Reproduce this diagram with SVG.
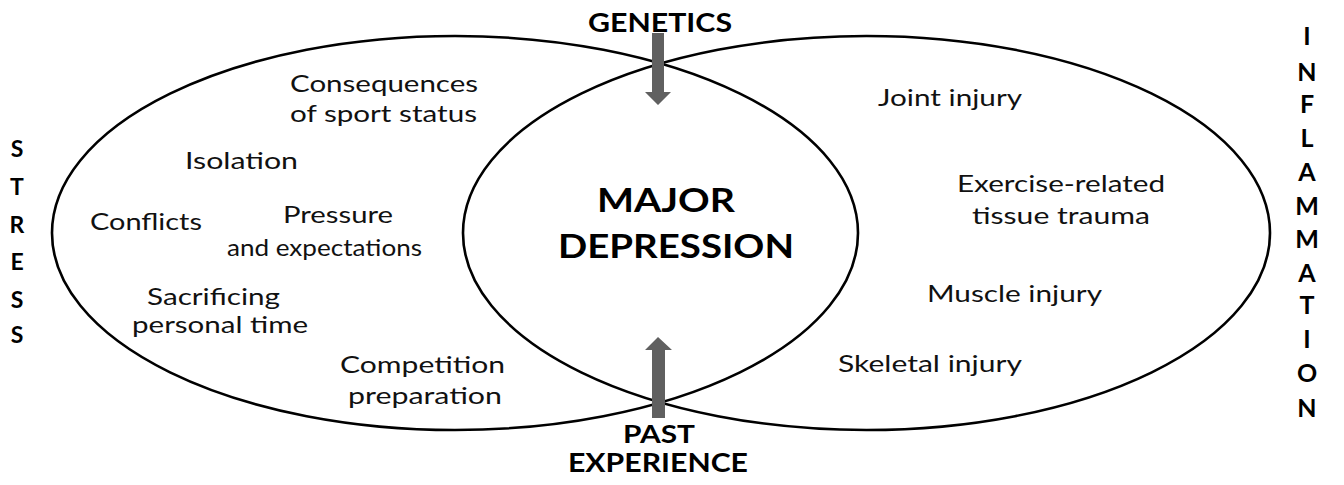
<svg xmlns="http://www.w3.org/2000/svg" width="1344" height="485" viewBox="0 0 1344 485">
  <style>
    .ring { fill: none; stroke: #000; stroke-width: 2.6; }
    .t { font-family: Lato, "Open Sans", "Liberation Sans", sans-serif; font-size: 23px; fill: #111; }
    .b { font-family: Lato, "Open Sans", "Liberation Sans", sans-serif; font-weight: 700; fill: #000; }
    .arrow { fill: #606060; }
  </style>
  <rect width="1344" height="485" fill="#fff"/>

  <g id="stress-circle">
    <ellipse class="ring" cx="455" cy="233" rx="403" ry="197"/>
    <text class="t" x="290" y="92" textLength="188" lengthAdjust="spacingAndGlyphs">Consequences</text>
    <text class="t" x="290" y="122" textLength="187" lengthAdjust="spacingAndGlyphs">of sport status</text>
    <text class="t" x="185" y="169" textLength="113" lengthAdjust="spacingAndGlyphs">Isolation</text>
    <text class="t" x="90" y="230" textLength="112" lengthAdjust="spacingAndGlyphs">Conflicts</text>
    <text class="t" x="283" y="223" textLength="110" lengthAdjust="spacingAndGlyphs">Pressure</text>
    <text class="t" x="227" y="256" textLength="195" lengthAdjust="spacingAndGlyphs">and expectations</text>
    <text class="t" x="147" y="305" textLength="133" lengthAdjust="spacingAndGlyphs">Sacrificing</text>
    <text class="t" x="132" y="333" textLength="176" lengthAdjust="spacingAndGlyphs">personal time</text>
    <text class="t" x="340" y="373" textLength="165" lengthAdjust="spacingAndGlyphs">Competition</text>
    <text class="t" x="348" y="404" textLength="154" lengthAdjust="spacingAndGlyphs">preparation</text>
  </g>

  <g id="inflammation-circle">
    <ellipse class="ring" cx="866.5" cy="233" rx="403.5" ry="197"/>
    <text class="t" x="878" y="106" textLength="144" lengthAdjust="spacingAndGlyphs">Joint injury</text>
    <text class="t" x="957" y="192" textLength="208" lengthAdjust="spacingAndGlyphs">Exercise-related</text>
    <text class="t" x="972" y="224" textLength="178" lengthAdjust="spacingAndGlyphs">tissue trauma</text>
    <text class="t" x="927" y="302" textLength="175" lengthAdjust="spacingAndGlyphs">Muscle injury</text>
    <text class="t" x="838" y="372" textLength="184" lengthAdjust="spacingAndGlyphs">Skeletal injury</text>
  </g>

  <g id="major-depression">
    <text class="b" x="597" y="212" font-size="33" textLength="138" lengthAdjust="spacingAndGlyphs">MAJOR</text>
    <text class="b" x="558" y="258" font-size="33" textLength="236" lengthAdjust="spacingAndGlyphs">DEPRESSION</text>
  </g>

  <g id="stress-label" class="b" font-size="23" text-anchor="middle">
    <text x="17" y="157">S</text>
    <text x="17" y="195">T</text>
    <text x="17" y="233">R</text>
    <text x="17" y="270">E</text>
    <text x="17" y="308">S</text>
    <text x="17" y="343">S</text>
  </g>

  <g id="inflammation-label" class="b" font-size="25" text-anchor="middle">
    <text x="1307" y="45">I</text>
    <text x="1307" y="81">N</text>
    <text x="1307" y="113">F</text>
    <text x="1307" y="147">L</text>
    <text x="1307" y="181">A</text>
    <text x="1307" y="215">M</text>
    <text x="1307" y="248">M</text>
    <text x="1307" y="282">A</text>
    <text x="1307" y="314">T</text>
    <text x="1307" y="348">I</text>
    <text x="1307" y="382">O</text>
    <text x="1307" y="417">N</text>
  </g>

  <g id="genetics">
    <text class="b" x="588" y="32" font-size="26" textLength="144" lengthAdjust="spacingAndGlyphs">GENETICS</text>
  </g>

  <g id="past-experience">
    <text class="b" x="623" y="443" font-size="25" textLength="72" lengthAdjust="spacingAndGlyphs">PAST</text>
    <text class="b" x="568" y="472" font-size="26" textLength="180" lengthAdjust="spacingAndGlyphs">EXPERIENCE</text>
  </g>

  <g id="connectors">
    <polygon class="arrow" points="652,33 664,33 664,92 671,92 658,105 645,92 652,92"/>
    <polygon class="arrow" points="658,337 672,350 665,350 665,418 652,418 652,350 645,350"/>
  </g>
</svg>
